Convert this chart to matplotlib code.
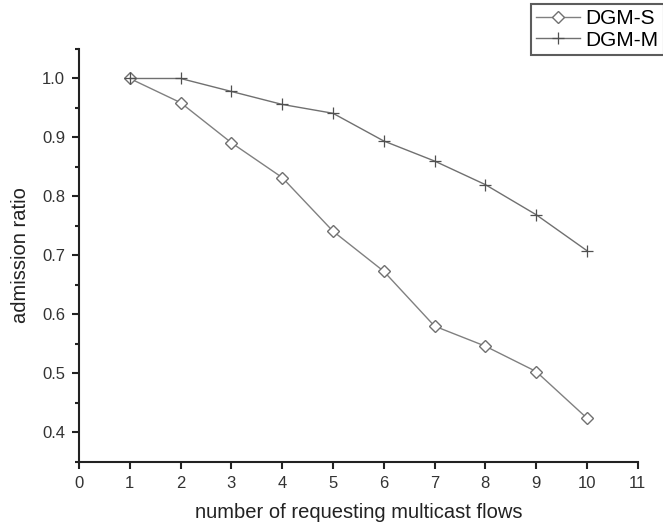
import matplotlib
matplotlib.use('Agg')
import matplotlib.pyplot as plt
from matplotlib.ticker import MultipleLocator

plt.rcParams['font.family'] = ['Liberation Sans', 'DejaVu Sans']

# data
flows = [1, 2, 3, 4, 5, 6, 7, 8, 9, 10]
dgm_s = [1.0, 0.959, 0.891, 0.832, 0.741, 0.673, 0.580, 0.546, 0.503, 0.424]
dgm_m = [1.0, 1.0, 0.978, 0.956, 0.941, 0.894, 0.860, 0.820, 0.769, 0.708]

fig = plt.figure(figsize=(6.63, 5.27), dpi=100)
ax = fig.add_axes([0.1192, 0.1239, 0.9618 - 0.1192, 0.907 - 0.1239])

ax.plot(flows, dgm_s, color='#808080', lw=1, marker='D', ms=6.5,
        mfc='white', mec='#707070', mew=1, label='DGM-S')
ax.plot(flows, dgm_m, color='#707070', lw=1, marker='+', ms=8,
        mec='#505050', mew=0.9, label='DGM-M')

ax.set_xlim(0, 11)
ax.set_ylim(0.35, 1.05)
ax.xaxis.set_major_locator(MultipleLocator(1))
ax.yaxis.set_major_locator(MultipleLocator(0.1))
ax.yaxis.set_minor_locator(MultipleLocator(0.05))
ax.yaxis.set_major_formatter(plt.FormatStrFormatter('%.1f'))

for s in ['top', 'right']:
    ax.spines[s].set_visible(False)
for s in ['left', 'bottom']:
    ax.spines[s].set_linewidth(1.5)
    ax.spines[s].set_color('#222222')

ax.tick_params(which='major', direction='out', length=5, width=1.5,
               labelsize=12, colors='#222222', labelcolor='#333333', pad=5)
ax.tick_params(which='minor', direction='out', length=3, width=1.5, colors='#222222')

ax.set_xlabel('number of requesting multicast flows', fontsize=14.5,
              color='#222222', labelpad=9)
ax.set_ylabel('admission ratio', fontsize=14.5, color='#222222', labelpad=9)

# legend box sits in the top right corner, partly cut by the edge
leg = fig.legend(loc='upper left', bbox_to_anchor=(531 / 663, 1 - 4 / 527),
                 fontsize=15, frameon=True, fancybox=False, borderpad=0.25,
                 handlelength=2.1, handletextpad=0.25, labelspacing=0.12,
                 borderaxespad=0)
leg.get_frame().set_edgecolor('#333333')
leg.get_frame().set_linewidth(1.5)

fig.savefig('out.png', dpi=100)
